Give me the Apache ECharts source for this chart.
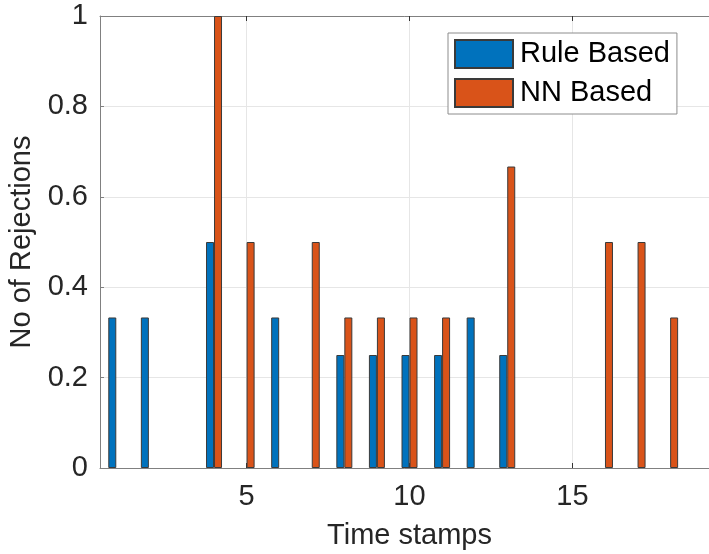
<!DOCTYPE html>
<html>
<head>
<meta charset="utf-8">
<script src="https://cdn.jsdelivr.net/npm/echarts@6/dist/echarts.min.js"></script>
<style>
html,body{margin:0;padding:0;background:#fff;}
#c{width:709px;height:554px;}
</style>
</head>
<body>
<div id="c"></div>
<script>
// Data
const ruleX = [1, 2, 4, 6, 8, 9, 10, 11, 12, 13];
const ruleY = [0.333, 0.333, 0.5, 0.333, 0.25, 0.25, 0.25, 0.25, 0.333, 0.25];
const nnX = [4, 5, 7, 8, 9, 10, 11, 13, 16, 17, 18];
const nnY = [1, 0.5, 0.5, 0.333, 0.333, 0.333, 0.333, 0.667, 0.5, 0.5, 0.333];
const xTicks = [5, 10, 15];
const seriesNames = ['Rule Based', 'NN Based'];
const xName = 'Time stamps';
const yName = 'No of Rejections';

const FONT = "'Liberation Sans', Arial, Helvetica, sans-serif";
const AXIS = '#808080';
const TXT = '#262626';
const GRIDC = '#e6e6e6';

const chart = echarts.init(document.getElementById('c'), null, {renderer: 'canvas'});
const option = {
  backgroundColor: '#fff',
  animation: false,
  textStyle: {fontFamily: FONT},
  grid: {left: 100, top: 16, bottom: 86, right: -10, containLabel: false, outerBoundsMode: 'none'},
  legend: {
    z: 20, zlevel: 0,
    orient: 'vertical',
    left: 448, top: 33,
    padding: [6, 7, 6, 6],
    itemWidth: 58, itemHeight: 28, itemGap: 9,
    backgroundColor: '#fff',
    borderColor: '#8c8c8c', borderWidth: 1,
    icon: 'rect',
    textStyle: {fontFamily: FONT, fontSize: 29, color: '#000', padding: [0, 0, 0, 2]},
    data: seriesNames
  },
  xAxis: [{
    type: 'value', position: 'bottom', min: 0.5, max: 19.5,
    name: xName, nameLocation: 'middle', nameGap: 53,
    nameTextStyle: {fontFamily: FONT, fontSize: 29, color: TXT},
    axisLine: {show: true, lineStyle: {color: AXIS, width: 1}},
    axisTick: {show: true, inside: true, length: 5, customValues: xTicks, lineStyle: {color: '#333'}},
    axisLabel: {show: true, customValues: xTicks, margin: 14, fontFamily: FONT, fontSize: 29, color: TXT},
    splitLine: {show: false}
  }, {
    type: 'value', position: 'top', min: 0.5, max: 19.5,
    axisLine: {show: true, lineStyle: {color: AXIS, width: 1}},
    axisTick: {show: true, inside: true, length: 5, customValues: xTicks, lineStyle: {color: '#333'}},
    axisLabel: {show: false},
    splitLine: {show: false}
  }],
  yAxis: [{
    type: 'value', min: 0, max: 1, interval: 0.2,
    name: yName, nameLocation: 'middle', nameGap: 60, nameRotate: 90,
    nameTextStyle: {fontFamily: FONT, fontSize: 29, color: TXT},
    axisLine: {show: true, lineStyle: {color: AXIS, width: 1}},
    axisTick: {show: true, inside: true, length: 4, lineStyle: {color: AXIS}},
    axisLabel: {margin: 12, fontFamily: FONT, fontSize: 29, color: TXT},
    splitLine: {show: true, lineStyle: {color: GRIDC, width: 1}}
  }],
  series: [{
    name: 'grid', type: 'line', xAxisIndex: 0, data: [], silent: true, z: 0,
    markLine: {
      silent: true, symbol: 'none', label: {show: false}, z: 0,
      lineStyle: {color: GRIDC, type: 'solid', width: 1},
      data: xTicks.map(v => ({xAxis: v})),
      animation: false
    }
  }, {
    name: seriesNames[0], type: 'bar', xAxisIndex: 0,
    barWidth: 8, barGap: '0%',
    itemStyle: {color: '#0072BD', borderColor: '#3a3a3a', borderWidth: 1},
    data: ruleX.map((x, i) => [x, ruleY[i]]), z: 3
  }, {
    name: seriesNames[1], type: 'bar', xAxisIndex: 0,
    barWidth: 8, barGap: '0%',
    itemStyle: {color: '#D95319', borderColor: '#3a3a3a', borderWidth: 1},
    data: nnX.map((x, i) => [x, nnY[i]]), z: 3
  }]
};
chart.setOption(option);
</script>
</body>
</html>
